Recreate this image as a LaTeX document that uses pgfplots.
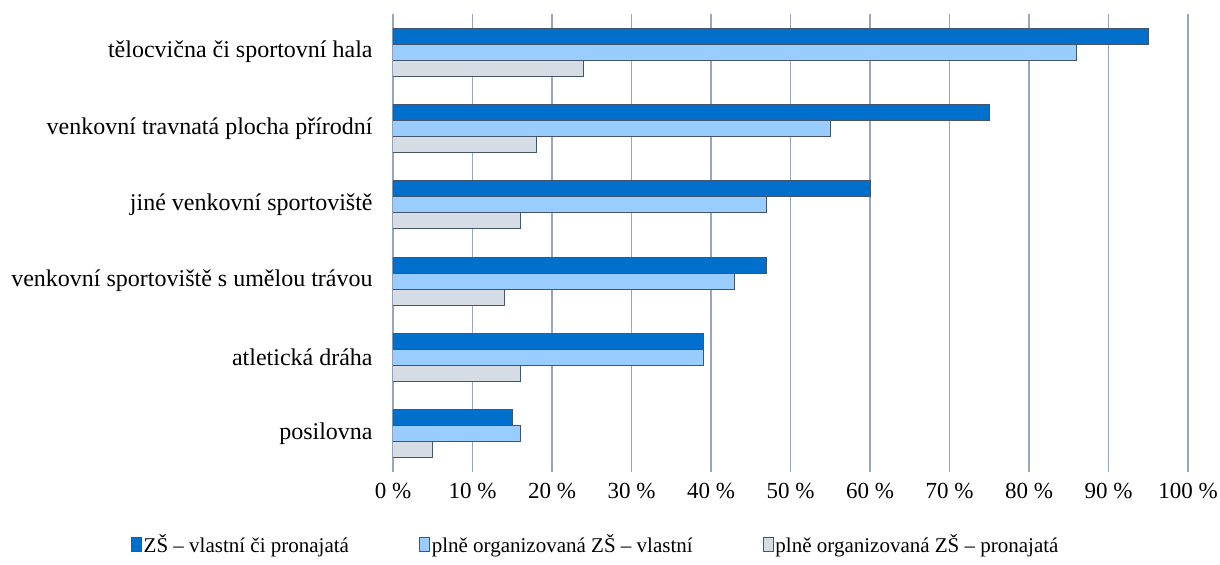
\documentclass[border=0pt]{standalone}
\usepackage{fontspec}
\setmainfont{Liberation Serif}
\usepackage{pgfplots}
\pgfplotsset{compat=1.18}

\definecolor{zsdark}{HTML}{0070CC}
\definecolor{zslight}{HTML}{99CCFF}
\definecolor{zsgray}{HTML}{D6DCE4}
\definecolor{edgecol}{HTML}{44546A}
\definecolor{gridcol}{HTML}{97A6C2}

\begin{document}
\begin{tikzpicture}
\begin{axis}[
    scale only axis,
    width=397.5pt, height=229pt,
    xbar,
    bar width=0.21,
    xmin=0, xmax=100,
    ymin=-0.5, ymax=5.5,
    axis line style={draw=none},
    major tick length=0pt,
    xmajorgrids,
    grid style={gridcol, line width=0.6pt},
    xtick={0,10,...,100},
    xticklabel={\pgfmathprintnumber{\tick}~\%},
    /pgf/number format/assume math mode=true,
    xticklabel style={inner sep=0pt, yshift=-5.5pt, font=\fontsize{11.5}{13}\selectfont},
    ytick={0,...,5},
    yticklabels={posilovna, atletická dráha, venkovní sportoviště s umělou trávou,
        jiné venkovní sportoviště, venkovní travnatá plocha přírodní\ ,
        tělocvična či sportovní hala},
    yticklabel style={inner sep=0pt, xshift=-10pt, font=\fontsize{12}{14}\selectfont},
    legend style={at={(0.255,-0.122)}, anchor=north, draw=none,
        legend columns=-1, font=\fontsize{10.5}{12}\selectfont,
        /tikz/every even column/.append style={column sep=34pt},
        nodes={inner sep=1pt}},
    legend image code/.code={\draw[#1, draw=edgecol, line width=0.4pt] (0pt,-3.5pt) rectangle (5pt,3.5pt);},
]
\addplot[fill=zsdark, draw=edgecol, line width=0.5pt, bar shift=0.21]
    coordinates {(15,0) (39,1) (47,2) (60,3) (75,4) (95,5)};
\addlegendentry{ZŠ – vlastní či pronajatá}
\addplot[fill=zslight, draw=edgecol, line width=0.5pt, bar shift=0]
    coordinates {(16,0) (39,1) (43,2) (47,3) (55,4) (86,5)};
\addlegendentry{plně organizovaná ZŠ – vlastní}
\addplot[fill=zsgray, draw=edgecol, line width=0.5pt, bar shift=-0.21]
    coordinates {(5,0) (16,1) (14,2) (16,3) (18,4) (24,5)};
\addlegendentry{plně organizovaná ZŠ – pronajatá}
\coordinate (pa) at (rel axis cs:0,0);
\coordinate (pb) at (rel axis cs:1,1);
\end{axis}
\pgfresetboundingbox
\path ([xshift=-196.5pt,yshift=-46.5pt]pa) rectangle ([xshift=16pt,yshift=7pt]pb);
\end{tikzpicture}
\end{document}
